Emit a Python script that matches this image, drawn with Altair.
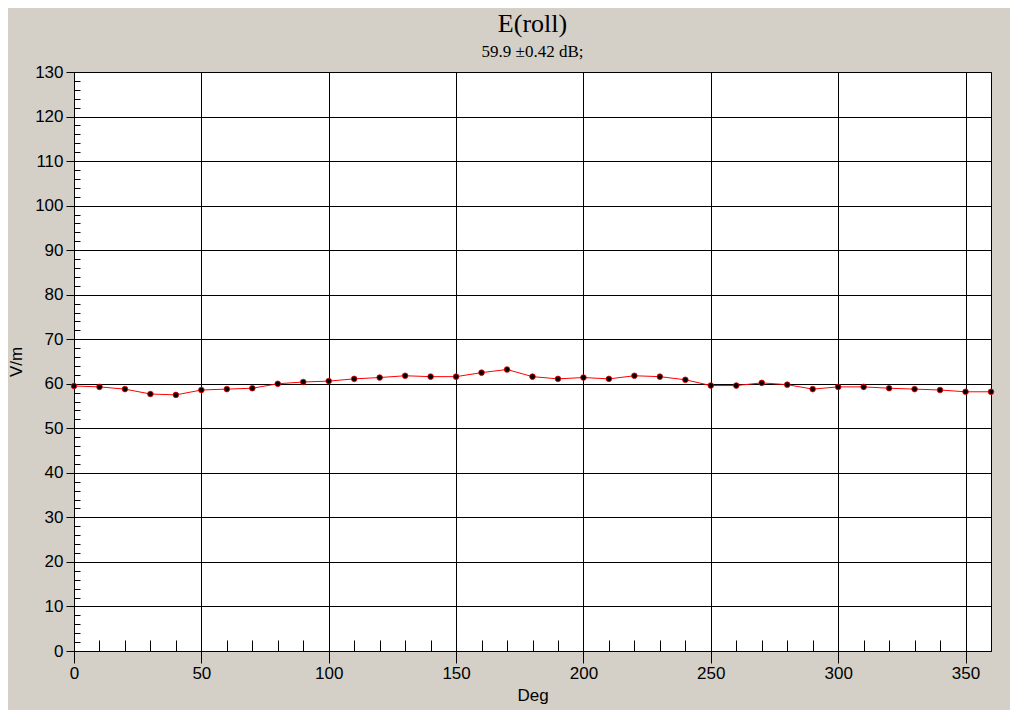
import altair as alt
import pandas as pd

deg = list(range(0, 361, 10))
vm = [59.5, 59.3, 58.8, 57.7, 57.5, 58.6, 58.8, 59.0, 60.0, 60.4,
      60.6, 61.1, 61.4, 61.8, 61.6, 61.6, 62.5, 63.2, 61.6, 61.1,
      61.4, 61.1, 61.8, 61.6, 60.9, 59.6, 59.6, 60.2, 59.8, 58.8,
      59.3, 59.3, 59.0, 58.8, 58.6, 58.2, 58.2]

x_major_ticks = [0, 50, 100, 150, 200, 250, 300, 350]
x_minor_ticks = [v for v in range(10, 360, 10) if v % 50 != 0]
y_major_ticks = list(range(0, 131, 10))
y_minor_ticks = [v for v in range(2, 130, 2) if v % 10 != 0]

df = pd.DataFrame({"deg": deg, "vm": vm})

FONT = "Liberation Sans"
xs = alt.Scale(domain=[0, 360], nice=False, zero=False)
ys = alt.Scale(domain=[0, 130], nice=False, zero=False)

x_major = alt.Axis(values=x_major_ticks, orient="bottom", grid=True, gridColor="#000", gridWidth=1,
                   tickSize=12, tickColor="#000", domainColor="#000",
                   labelFont=FONT, labelFontSize=17, labelColor="#000", labelPadding=2,
                   title="Deg", titleFont=FONT, titleFontSize=17, titleFontWeight="normal",
                   titleColor="#000", titlePadding=6, labelFlush=False)
y_major = alt.Axis(values=y_major_ticks, orient="left", grid=True, gridColor="#000", gridWidth=1,
                   tickSize=8, tickColor="#000", domainColor="#000",
                   labelFont=FONT, labelFontSize=17, labelColor="#000", labelPadding=3,
                   title="V/m", titleFont=FONT, titleFontSize=17, titleFontWeight="normal",
                   titleColor="#000", titlePadding=9, labelFlush=False)
x_minor = alt.Axis(values=x_minor_ticks, orient="bottom", offset=-11, tickSize=11,
                   tickColor="#000", domain=False, labels=False, grid=False, title=None)
y_minor = alt.Axis(values=y_minor_ticks, orient="left", offset=-6, tickSize=6,
                   tickColor="#000", domain=False, labels=False, grid=False, title=None)

base = alt.Chart(df)

minor = base.mark_line(opacity=0).encode(
    x=alt.X("deg:Q", scale=xs, axis=x_minor),
    y=alt.Y("vm:Q", scale=ys, axis=y_minor),
)
line = base.mark_line(color="#ff0000", strokeWidth=1).encode(
    x=alt.X("deg:Q", scale=xs, axis=x_major),
    y=alt.Y("vm:Q", scale=ys, axis=y_major),
)
pts = base.mark_point(filled=True, fill="#000", stroke="#ff0000", strokeWidth=0.8,
                      size=32, opacity=1, shape="circle").encode(
    x=alt.X("deg:Q", scale=xs, axis=None),
    y=alt.Y("vm:Q", scale=ys, axis=None),
)

chart = alt.layer(minor, line, pts).resolve_axis(
    x="independent", y="independent"
).properties(
    width=917, height=579,
    autosize=alt.AutoSizeParams(type="none"),
    padding={"left": 66, "top": 64, "right": 19, "bottom": 59},
    title=alt.TitleParams("E(roll)", subtitle="59.9 ±0.42 dB;", font="Liberation Serif",
                          fontSize=26, fontWeight="normal", color="#000",
                          subtitleFont="Liberation Serif", subtitleFontSize=17,
                          subtitleColor="#000", subtitlePadding=7, anchor="middle", offset=3),
).configure(background="#d4d0c8").configure_view(stroke="#000", strokeWidth=1, fill="#ffffff")

chart.save("out.html", embed_options={"renderer": "svg", "actions": False})
